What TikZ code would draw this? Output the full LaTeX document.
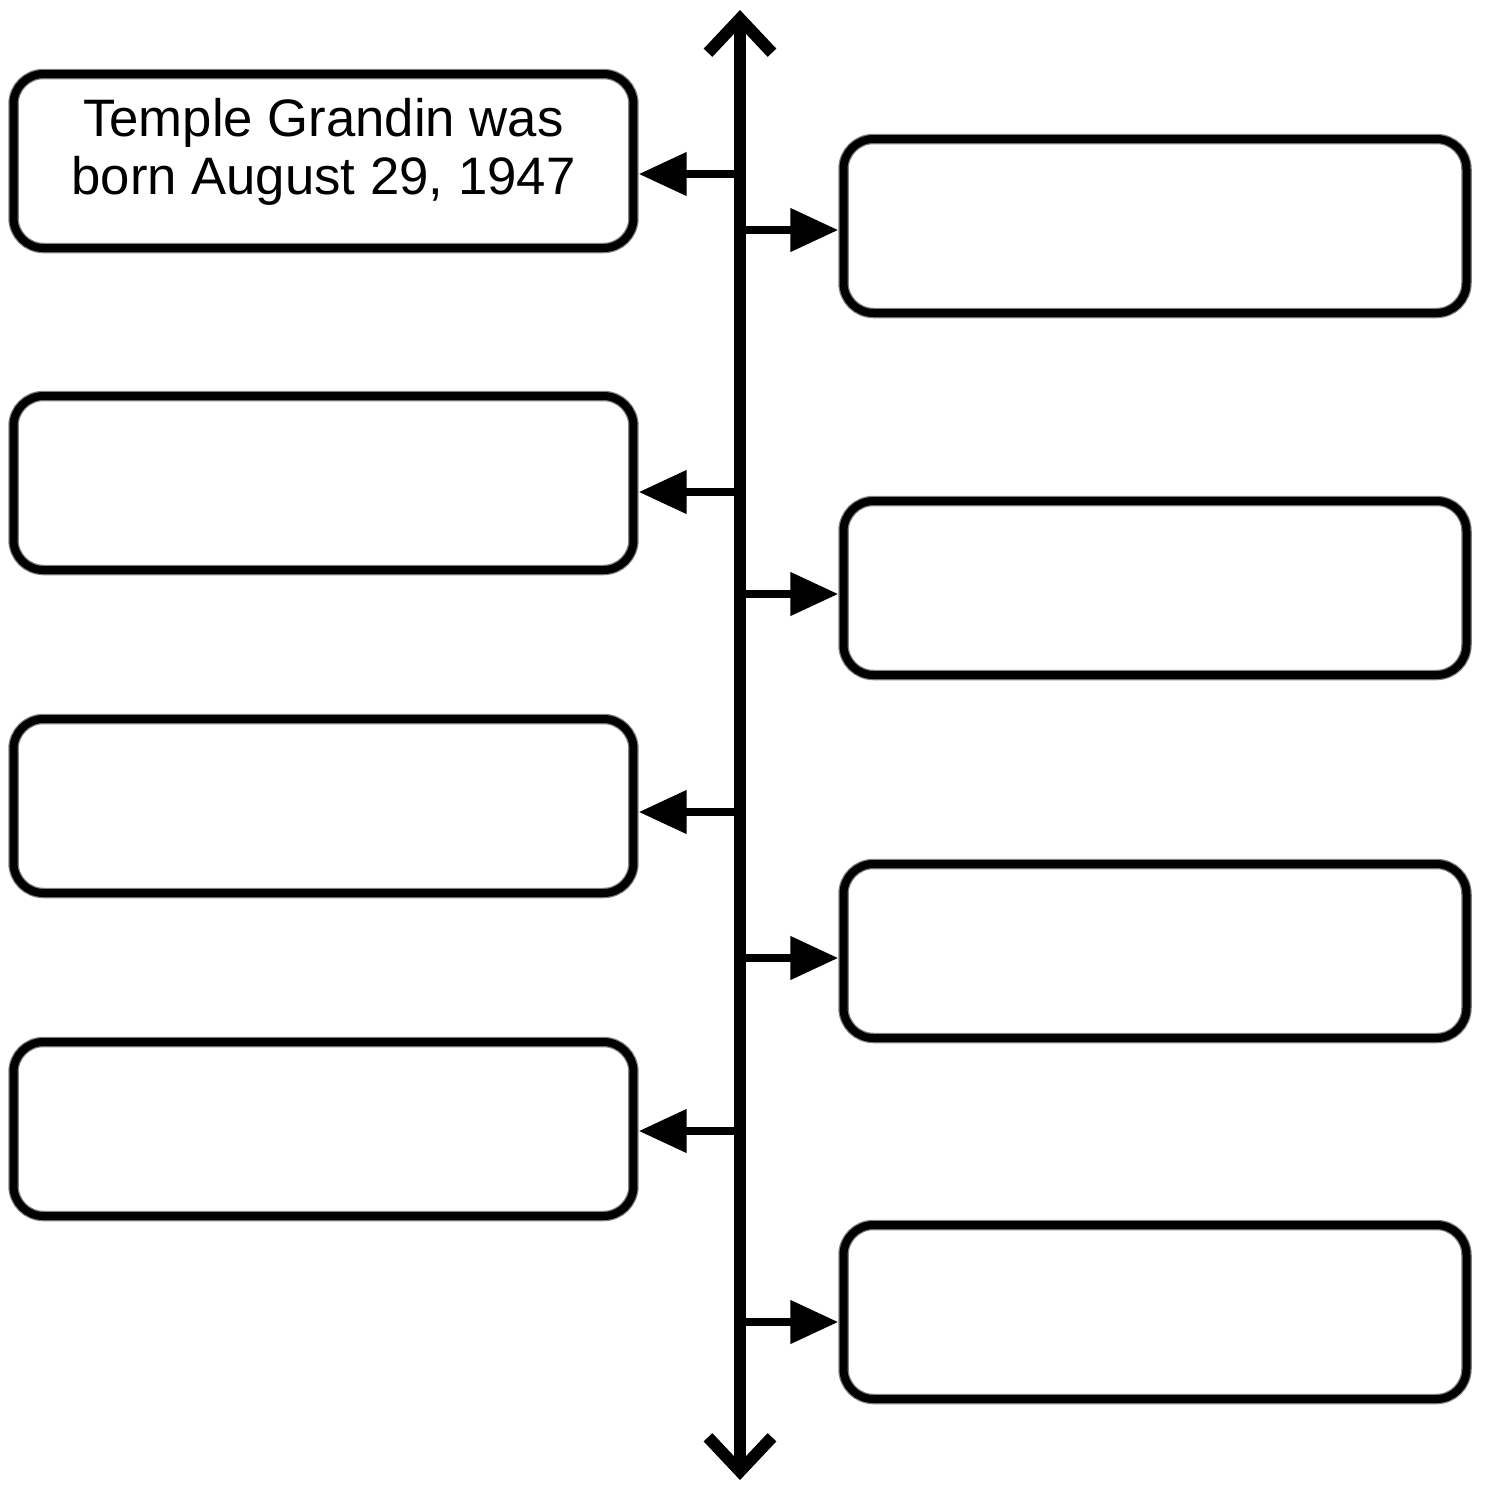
\documentclass[tikz,border=0pt]{standalone}
\usepackage{fontspec}
\setmainfont{Liberation Sans}
\usetikzlibrary{arrows.meta}
\begin{document}
\begin{tikzpicture}[x=0.1mm,y=-0.1mm,
  evbox/.style={draw=black!50, line width=1.05mm, rounded corners=3mm, minimum width=62.0mm, minimum height=17.4mm, inner sep=0pt,
    postaction={draw=black, line width=0.8mm, rounded corners=3mm}},
  spine/.style={line width=1.2mm, {Straight Barb[length=3.4mm,width=6.4mm]}-{Straight Barb[length=3.4mm,width=6.4mm]}},
  tick/.style={line width=0.8mm, -{Triangle[length=4.8mm,width=4.2mm]}},
  evtext/.style={font=\fontsize{15}{16.5}\selectfont, align=center}]
\useasboundingbox (0,0) rectangle (1485,1487);
% boxes left
\node[evbox] (L1) at (323.5,161) {};
\node[evbox] (L2) at (323.5,483) {};
\node[evbox] (L3) at (323.5,806) {};
\node[evbox] (L4) at (323.5,1129) {};
% boxes right
\node[evbox, minimum width=62.3mm] (R1) at (1155,226) {};
\node[evbox, minimum width=62.3mm] (R2) at (1155,588) {};
\node[evbox, minimum width=62.3mm] (R3) at (1155,951) {};
\node[evbox, minimum width=62.3mm] (R4) at (1155,1312) {};
\node[evtext] (T1) at (323.5,152) {Temple Grandin was\\born August 29, 1947};
% spine
\coordinate (top) at (740,10);
\coordinate (bot) at (740,1480);
\draw[spine] (bot) -- (top);
% spine points
\coordinate (sl1) at (740,174);
\coordinate (sl2) at (740,492);
\coordinate (sl3) at (740,812);
\coordinate (sl4) at (740,1131);
\coordinate (sr1) at (740,230);
\coordinate (sr2) at (740,594);
\coordinate (sr3) at (740,958);
\coordinate (sr4) at (740,1322);
\foreach \i in {1,2,3,4} {
  \draw[tick] (sl\i) -- (L\i.east |- sl\i);
  \draw[tick] (sr\i) -- (R\i.west |- sr\i);
}
\end{tikzpicture}
\end{document}
